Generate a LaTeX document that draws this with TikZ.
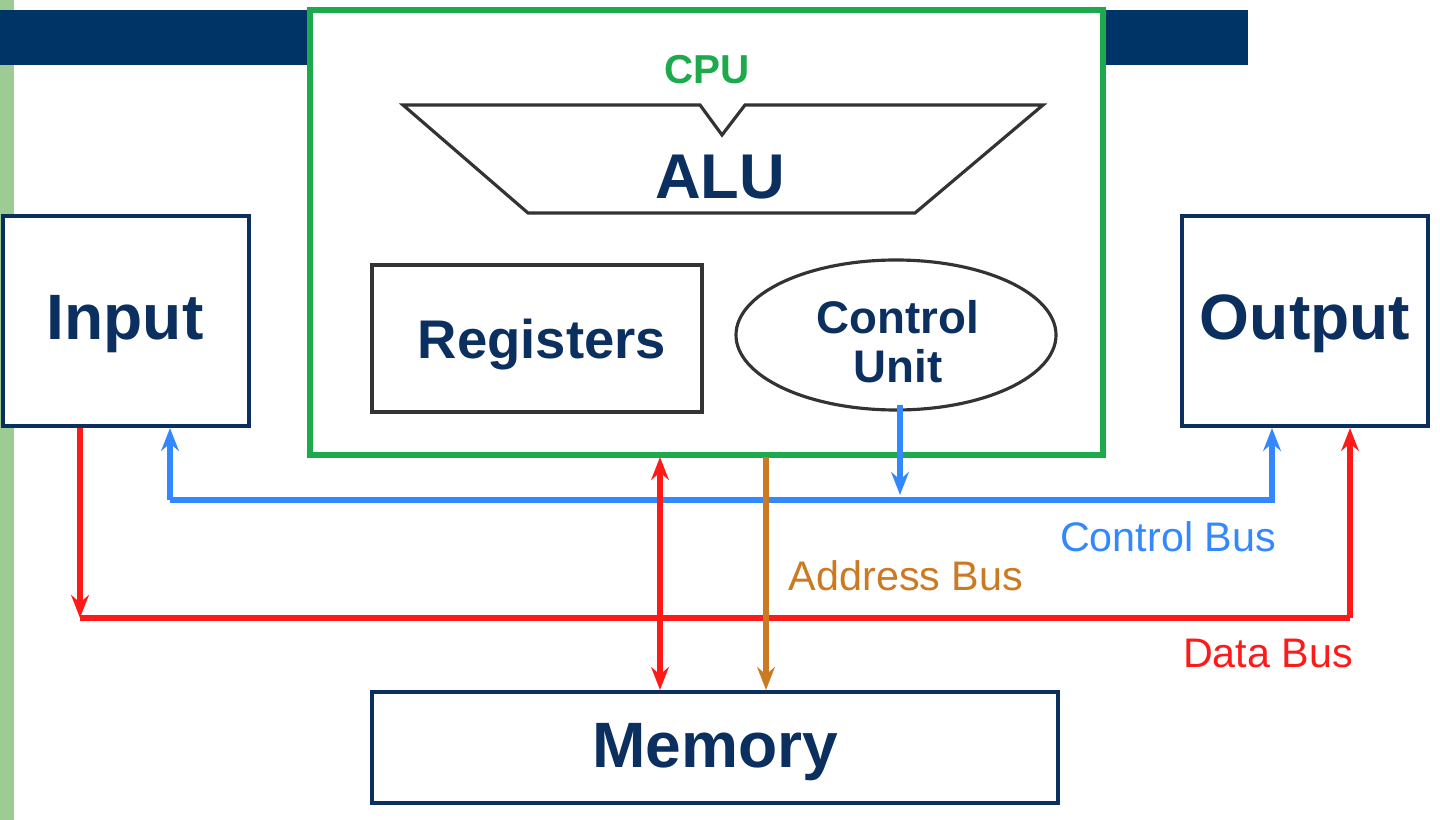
\documentclass[tikz,border=0pt]{standalone}
\usepackage{fontspec}
\setmainfont{Liberation Sans}
\usetikzlibrary{arrows.meta}
\definecolor{navy}{HTML}{0B2F5E}
\definecolor{cpugreen}{HTML}{1DAA4C}
\definecolor{barnavy}{HTML}{003366}
\definecolor{lgreen}{HTML}{9CCC94}
\definecolor{cblue}{HTML}{3388FF}
\definecolor{dred}{HTML}{FF1A1A}
\definecolor{abrown}{HTML}{CC7A22}
\begin{document}
\begin{tikzpicture}[x=0.02cm,y=-0.02cm,
  box/.style={draw=navy,line width=2.5pt,fill=white},
  big/.style={text=navy,font=\bfseries\fontsize{36.5}{40}\selectfont},
  bus/.style={line width=3pt,-{Stealth[length=13pt,width=10pt]}},
  lbl/.style={font=\fontsize{23.5}{27}\selectfont}]
\useasboundingbox (0,0) rectangle (1440,820);
\fill[white] (0,0) rectangle (1440,820);
\fill[lgreen] (0,0) rectangle (14,820);
\fill[barnavy] (0,10) rectangle (1248,65);
\draw[cpugreen,line width=3pt,fill=white] (310,10) rectangle (1103,455);
\node[text=cpugreen,font=\bfseries\fontsize{23}{26}\selectfont] (cpu) at (707,70) {CPU};
\draw[line width=1.8pt,draw=black!80,fill=white] (403,105) -- (700,105) -- (722,135) -- (745,105) -- (1043,105) -- (915,213) -- (528,213) -- cycle;
\node[big,font=\bfseries\fontsize{36}{40}\selectfont] (alu) at (720,177) {ALU};
\draw[line width=1.8pt,draw=black!80] (372,265) rectangle (702,412);
\node[text=navy,font=\bfseries\fontsize{31}{34}\selectfont] (reg) at (542,345) {Registers};
\draw[line width=1.8pt,draw=black!80] (896,335) ellipse [x radius=160,y radius=75];
\node[text=navy,font=\bfseries\fontsize{26}{28}\selectfont,align=center] (cu) at (898,342) {Control\\Unit};
\coordinate (cub) at (900,405);
\draw[box] (3,216) rectangle (249,426);
\node[big] (in) at (125,324) {Input};
\draw[box] (1182,216) rectangle (1428,426);
\node[big] (out) at (1305,324) {Output};
\draw[box] (372,692) rectangle (1058,803);
\node[big] (mem) at (715,752) {Memory};
% control bus
\coordinate (c1) at (170,500); \coordinate (c2) at (1272,500);
\coordinate (ci) at (170,428); \coordinate (co) at (1272,428);
\draw[bus,cblue] (c1) -- (c2) -- (co);
\draw[bus,cblue] (c1) -- (ci);
\draw[bus,cblue] (cub) -- (900,495);
\node[lbl,text=cblue] (cbl) at (1168,537) {Control Bus};
% data bus
\coordinate (d0) at (80,428); \coordinate (d1) at (80,618); \coordinate (d2) at (1350,618); \coordinate (do) at (1350,428);
\draw[line width=3pt,dred] (d1) -- (d2);
\draw[bus,dred] (d0) -- (d1);
\draw[bus,dred] (d2) -- (do);
\draw[line width=3pt,dred,{Stealth[length=13pt,width=10pt]}-{Stealth[length=13pt,width=10pt]}] (660,457) -- (660,690);
\node[lbl,text=dred] (dbl) at (1268,653) {Data Bus};
% address bus
\draw[bus,abrown] (766,457) -- (766,690);
\node[lbl,text=abrown] (abl) at (906,576) {Address Bus};
\end{tikzpicture}
\end{document}
